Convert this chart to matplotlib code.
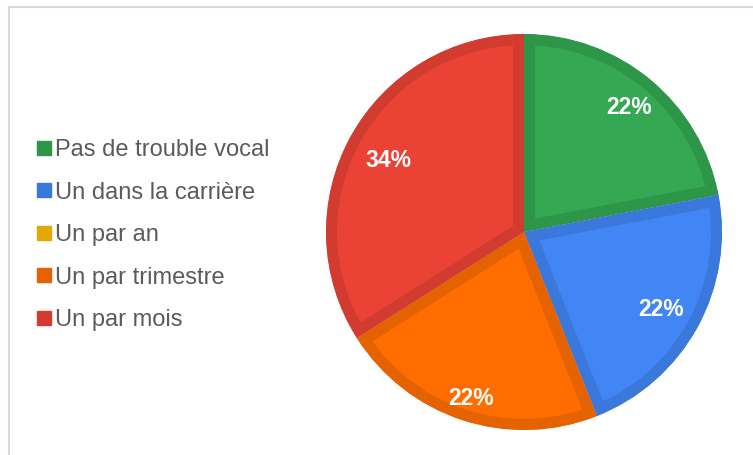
import matplotlib
matplotlib.use("Agg")
import matplotlib.pyplot as plt
from matplotlib.lines import Line2D
import numpy as np

categories = ["Pas de trouble vocal", "Un dans la carrière", "Un par an",
              "Un par trimestre", "Un par mois"]
values = [22, 22, 0, 22, 34]
fill_colors = ["#34A853", "#4285F4", "#FBBC04", "#FF6D01", "#EA4335"]
edge_colors = ["#2E9648", "#3B78DB", "#E1A903", "#E56200", "#D23C30"]

plt.rcParams['font.family'] = ['Liberation Sans', 'DejaVu Sans']

W, H = 753, 455
fig = plt.figure(figsize=(W / 100, H / 100), dpi=100)

# frame lines (light gray border top and left)
fig.add_artist(Line2D([9 / W, 9 / W], [0, 1 - 7 / H], transform=fig.transFigure,
                      color="#DADADA", lw=1.5))
fig.add_artist(Line2D([9 / W, 1], [1 - 7 / H, 1 - 7 / H], transform=fig.transFigure,
                      color="#DADADA", lw=1.5))

cx, cy, r = 524, 232, 198
ax = fig.add_axes([(cx - r) / W, (H - cy - r) / H, 2 * r / W, 2 * r / H])


def fmt(p):
    return f"{p:.0f}%" if p > 0.5 else ""


wedges, texts = ax.pie(values, colors=fill_colors, startangle=90, counterclock=False,
                       radius=1.0, wedgeprops=dict(linewidth=0))
ax.set_xlim(-1, 1)
ax.set_ylim(-1, 1)
ax.axis('off')

total = sum(values)
start = 90.0
label_r = [0.83, 0.79, 0.8, 0.87, 0.78]
for i, (w, v) in enumerate(zip(wedges, values)):
    w.set_edgecolor(edge_colors[i])
    w.set_linewidth(16)
    w.set_clip_on(True)
    w.set_clip_path(w)
    ang = start - 360 * v / total / 2
    start -= 360 * v / total
    if v > 0:
        th = np.deg2rad(ang)
        ax.text(label_r[i] * np.cos(th), label_r[i] * np.sin(th), fmt(100 * v / total),
                ha='center', va='center_baseline', color='white', fontsize=16.5,
                fontweight='bold')

handles = [Line2D([], [], marker='s', linestyle='none', markersize=10,
                  markerfacecolor=c, markeredgecolor=c) for c in edge_colors]
leg = fig.legend(handles, categories, loc='upper left',
                 bbox_to_anchor=(37 / W, 1 - 139 / H), frameon=False,
                 fontsize=17, labelcolor='#5B5B5B', handlelength=0.6,
                 handletextpad=0.15, labelspacing=0.87, borderpad=0, borderaxespad=0)

fig.savefig("out.png", dpi=100)
